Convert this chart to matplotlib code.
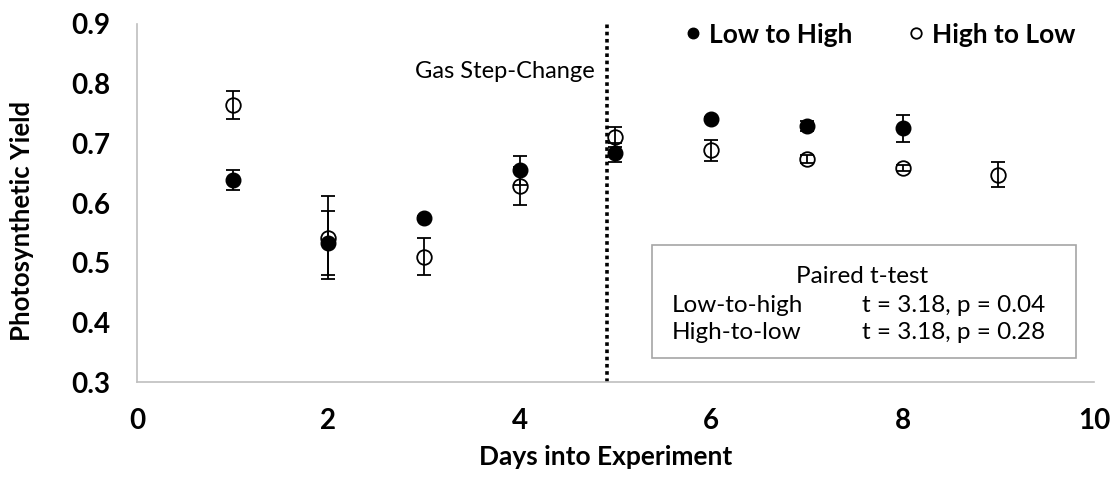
import matplotlib
matplotlib.use("Agg")
import matplotlib.pyplot as plt
from matplotlib.patches import Rectangle

plt.rcParams['font.family'] = ['Lato', 'DejaVu Sans']

# data
days_low_high = [1, 2, 3, 4, 5, 6, 7, 8]
yield_low_high = [0.638, 0.533, 0.575, 0.655, 0.684, 0.741, 0.729, 0.725]
err_low_high = [0.017, 0.054, 0.003, 0.024, 0.016, 0.003, 0.008, 0.022]

days_high_low = [1, 2, 3, 4, 5, 6, 7, 8, 9]
yield_high_low = [0.764, 0.542, 0.510, 0.628, 0.711, 0.688, 0.674, 0.658, 0.647]
err_high_low = [0.023, 0.069, 0.031, 0.032, 0.017, 0.017, 0.007, 0.005, 0.021]

step_change_day = 4.91
x_ticks = [0, 2, 4, 6, 8, 10]
y_ticks = [0.3, 0.4, 0.5, 0.6, 0.7, 0.8, 0.9]

fig = plt.figure(figsize=(11.12, 4.78), dpi=100)
ax = fig.add_axes([0.1232, 0.2008, 0.8606, 0.749])

# markers
ax.plot(days_high_low, yield_high_low, linestyle='none', marker='o', ms=10.5,
        mfc='white', mec='black', mew=1.3, zorder=2, label='High to Low')
ax.plot(days_low_high, yield_low_high, linestyle='none', marker='o', ms=10.5,
        mfc='black', mec='black', zorder=3, label='Low to High')

# error bars drawn on top of the markers
ax.errorbar(days_high_low, yield_high_low, yerr=err_high_low, fmt='none',
            ecolor='black', elinewidth=1.3, capsize=5, capthick=1.3, zorder=4)
ax.errorbar(days_low_high, yield_low_high, yerr=err_low_high, fmt='none',
            ecolor='black', elinewidth=1.3, capsize=5, capthick=1.3, zorder=4)

# gas step change
ax.axvline(step_change_day, color='black', linestyle=(0, (1, 1)), lw=2.6, zorder=1)
ax.text(step_change_day - 0.13, 0.820, 'Gas Step-Change', ha='right', va='center',
        fontsize=17)

ax.set_xlim(0, 10)
ax.set_ylim(0.3, 0.9)
ax.set_xticks(x_ticks)
ax.set_yticks(y_ticks)
ax.set_xticklabels([str(t) for t in x_ticks], fontweight='bold', fontsize=20)
ax.set_yticklabels([f'{t:.1f}' for t in y_ticks], fontweight='bold', fontsize=20)
ax.tick_params(length=0, pad=19)

for side in ['top', 'right']:
    ax.spines[side].set_visible(False)
for side in ['left', 'bottom']:
    ax.spines[side].set_color('#BFBFBF')
    ax.spines[side].set_linewidth(1.2)

fig.text(0.545, 0.044, 'Days into Experiment', ha='center', va='center',
         fontweight='bold', fontsize=19)
fig.text(0.0198, 0.538, 'Photosynthetic Yield', ha='center', va='center',
         rotation=90, fontweight='bold', fontsize=18.5)

# legend
handles, labels = ax.get_legend_handles_labels()
leg = ax.legend(handles[::-1], labels[::-1], loc='upper right', ncol=2,
                bbox_to_anchor=(1.005, 1.07), frameon=False, markerscale=0.72,
                handletextpad=0.1, columnspacing=1.9, handlelength=1.0,
                prop={'weight': 'bold', 'size': 19})

# t-test box
ax.add_patch(Rectangle((0.538, 0.067), 0.443, 0.316, transform=ax.transAxes,
                       facecolor='white', edgecolor='#A6A6A6', lw=1.2, zorder=5))
ax.text(0.758, 0.295, 'Paired t-test', transform=ax.transAxes, ha='center',
        va='center', fontsize=17.5, zorder=6)
ax.text(0.559, 0.213, 'Low-to-high', transform=ax.transAxes, ha='left',
        va='center', fontsize=17.5, zorder=6)
ax.text(0.758, 0.213, 't = 3.18, p = 0.04', transform=ax.transAxes, ha='left',
        va='center', fontsize=17.5, zorder=6)
ax.text(0.559, 0.138, 'High-to-low', transform=ax.transAxes, ha='left',
        va='center', fontsize=17.5, zorder=6)
ax.text(0.758, 0.138, 't = 3.18, p = 0.28', transform=ax.transAxes, ha='left',
        va='center', fontsize=17.5, zorder=6)

fig.savefig('out.png', dpi=100)
